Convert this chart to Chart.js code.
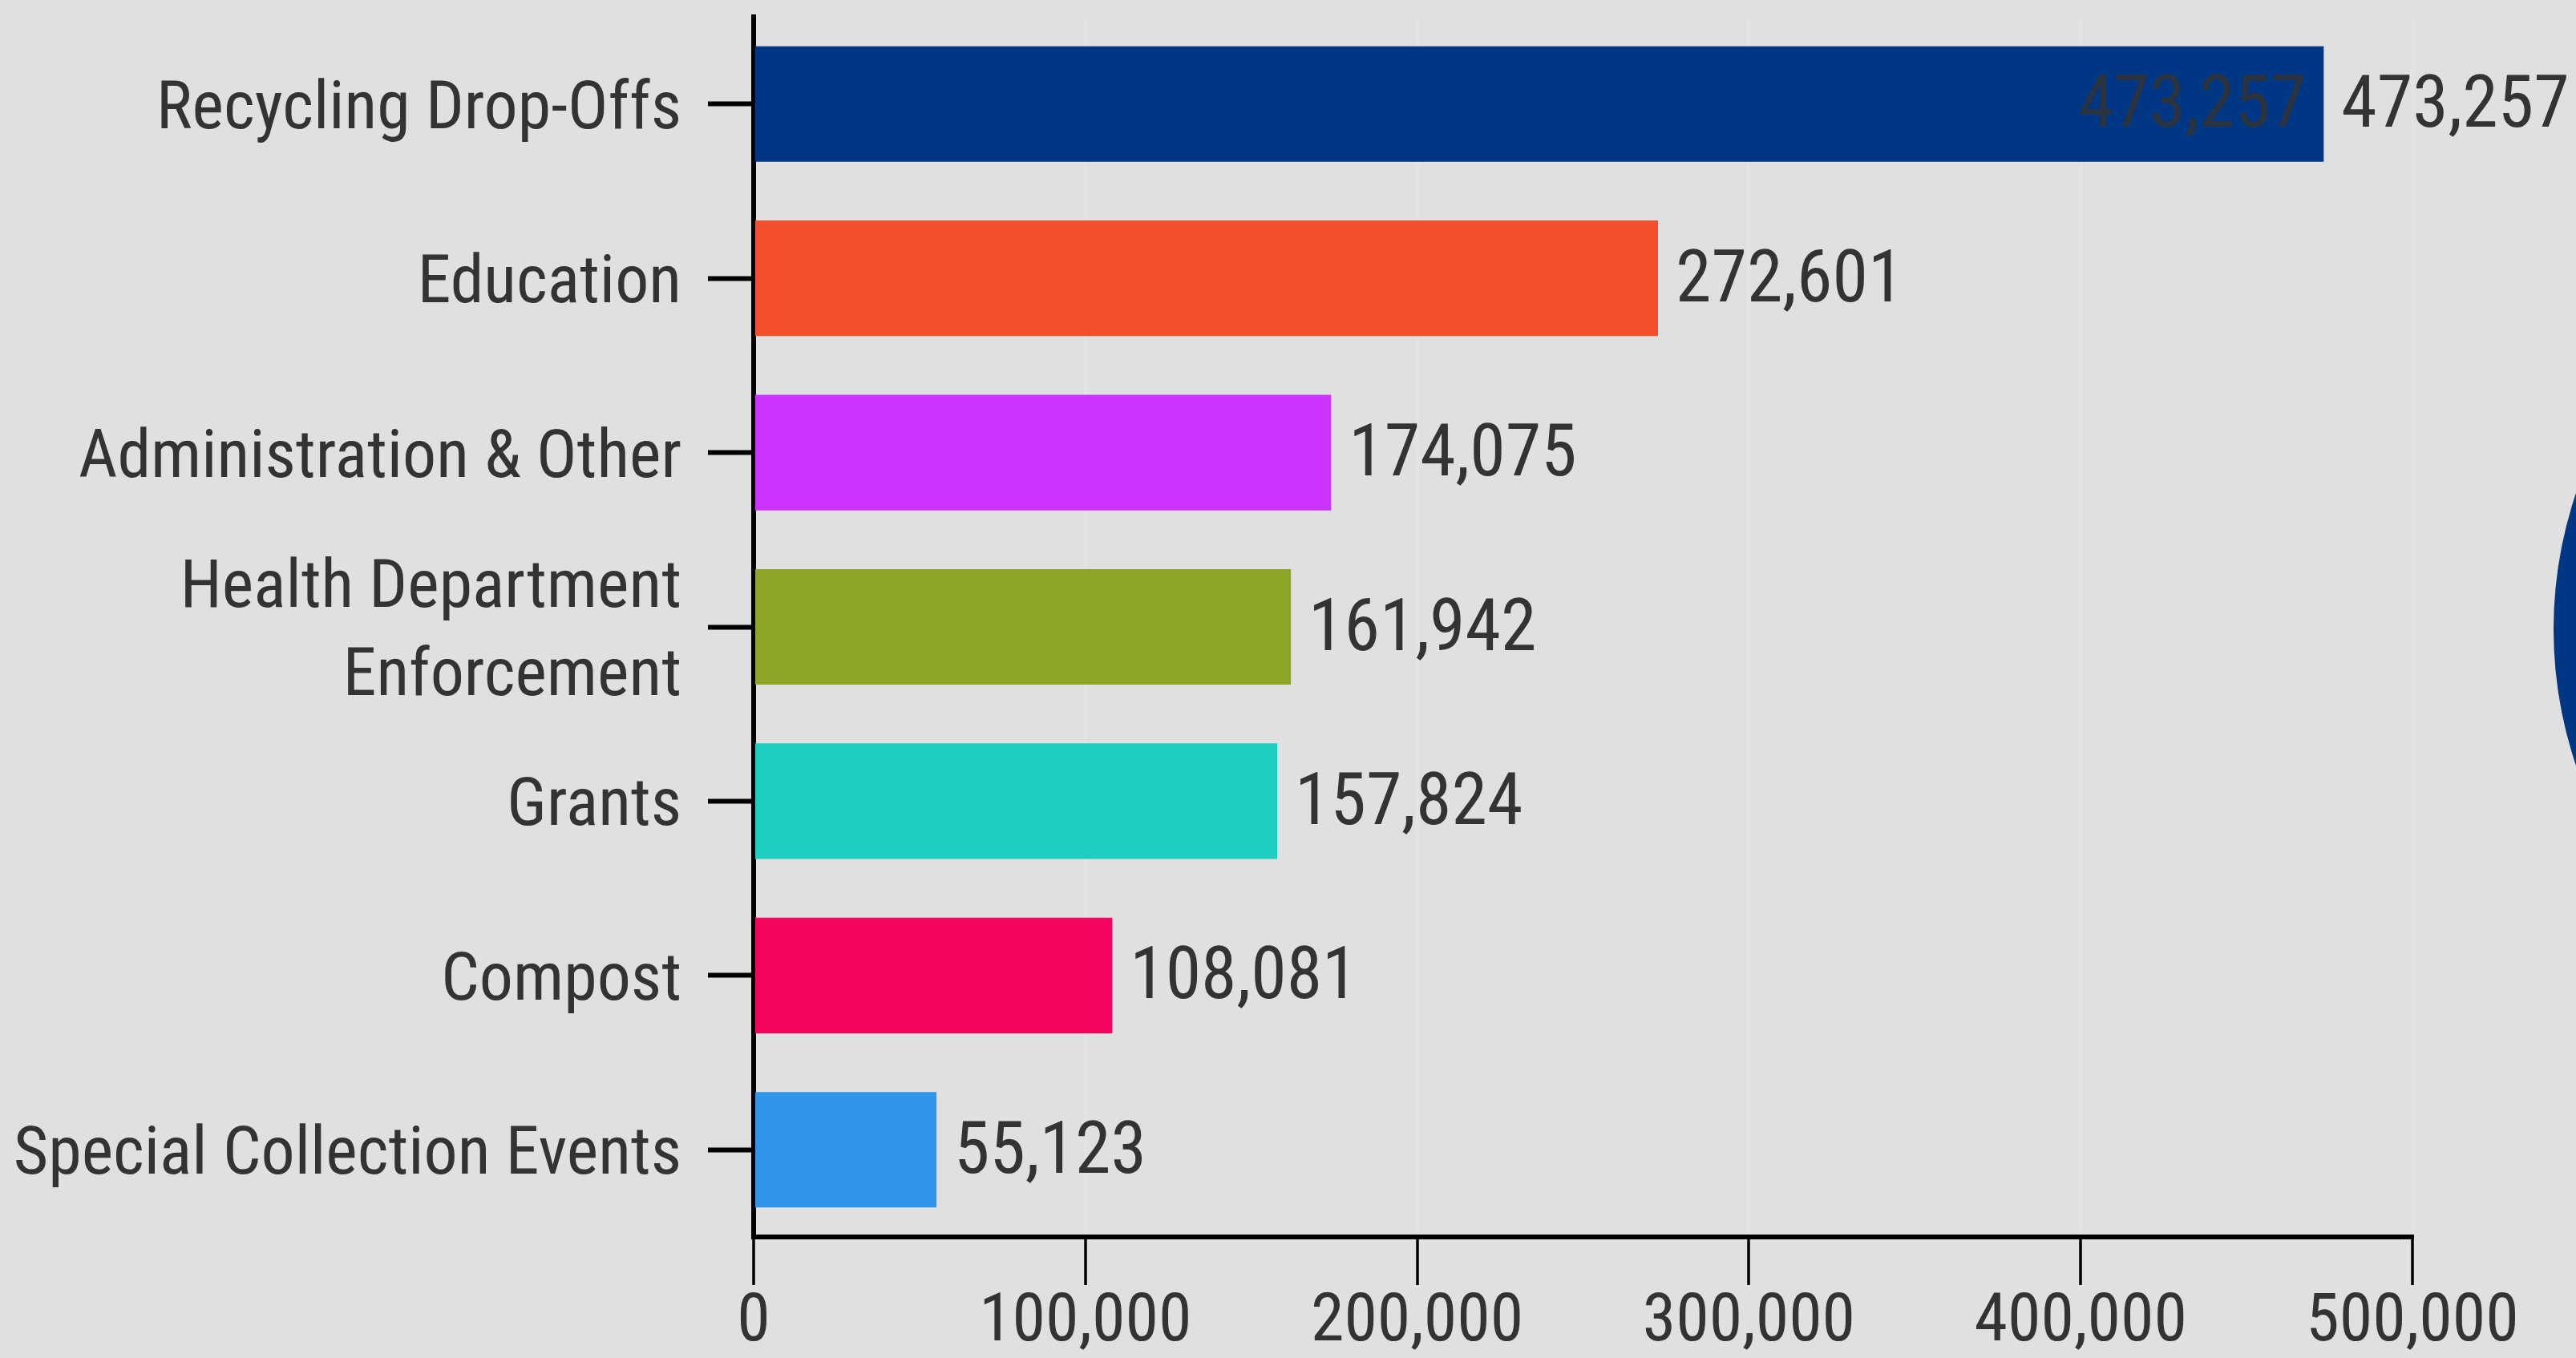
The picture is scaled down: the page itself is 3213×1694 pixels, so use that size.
<!DOCTYPE html>
<html>
<head>
<meta charset="utf-8">
<script src="https://cdn.jsdelivr.net/npm/chart.js@4/dist/chart.umd.min.js"></script>
<style>
html,body{margin:0;padding:0;background:#e0e0e0;overflow:hidden;}
canvas{display:block;}
</style>
</head>
<body>
<canvas id="c" width="3213" height="1694"></canvas>
<script>
// ---- data ----
const categories = [
  'Recycling Drop-Offs',
  'Education',
  'Administration & Other',
  ['Health Department', 'Enforcement'],
  'Grants',
  'Compost',
  'Special Collection Events'
];
const values = [473257, 272601, 174075, 161942, 157824, 108081, 55123];
const barColors = ['#003785', '#F64F2D', '#CC33FF', '#8BA526', '#1DCDC0', '#F5055F', '#2F95EA'];
const xTickValues = [0, 100000, 200000, 300000, 400000, 500000];

// ---- font selection (condensed look) ----
function measure(font, txt) {
  const ctx = document.createElement('canvas').getContext('2d');
  ctx.font = font;
  const ok = ctx.font.indexOf('92px') >= 0;
  return ok ? ctx.measureText(txt).width : -1;
}
const sample = 'Special Collection Events';
let FAMILY = 'Roboto', WEIGHT = '400';
(function pick() {
  const rN = measure('400 92px Roboto', sample);
  const rC = measure('400 condensed 92px Roboto', sample);
  if (rC > 0 && rC < rN * 0.95 && rC > rN * 0.6) { WEIGHT = '400 condensed'; return; }
  const mono = measure('400 92px monospace', sample);
  const cands = ["'Roboto Condensed'", "'Liberation Sans Narrow'", "'DejaVu Sans Condensed'"];
  for (const f of cands) {
    const w = measure('400 92px ' + f + ', monospace', sample);
    if (w > 0 && Math.abs(w - mono) > 1) { FAMILY = f; return; }
  }
})();
Chart.defaults.font.family = FAMILY;
Chart.defaults.font.weight = WEIGHT;
Chart.defaults.color = '#333333';

const TEXT = '#333333';
const LABEL_SIZE = 90;

const bgPlugin = {
  id: 'bg',
  beforeDraw(chart) {
    const c = chart.ctx;
    c.save();
    c.fillStyle = '#e0e0e0';
    c.fillRect(0, 0, chart.width, chart.height);
    c.restore();
  }
};

// decorative partial circle at the right edge (part of a neighbouring graphic)
const decoPlugin = {
  id: 'deco',
  afterDraw(chart) {
    const c = chart.ctx;
    c.save();
    c.fillStyle = '#003785';
    c.beginPath();
    c.arc(chart.width + 502, 785, 530, 0, Math.PI * 2);
    c.fill();
    c.restore();
  }
};

const valueLabels = {
  id: 'valueLabels',
  afterDatasetsDraw(chart) {
    const c = chart.ctx;
    const meta = chart.getDatasetMeta(0);
    c.save();
    c.font = WEIGHT + ' ' + LABEL_SIZE + 'px ' + FAMILY;
    c.textBaseline = 'middle';
    meta.data.forEach((bar, i) => {
      const txt = values[i].toLocaleString('en-US');
      c.fillStyle = TEXT;
      c.textAlign = 'left';
      c.fillText(txt, bar.x + 22, bar.y + 6);
      if (i === 0) {
        c.globalAlpha = 0.85;
        c.textAlign = 'right';
        c.fillText(txt, bar.x - 22, bar.y + 6);
        c.globalAlpha = 1;
      }
    });
    c.restore();
  }
};

new Chart(document.getElementById('c'), {
  type: 'bar',
  data: {
    labels: categories,
    datasets: [{
      data: values,
      backgroundColor: barColors,
      borderWidth: 0,
      barPercentage: 0.663,
      categoryPercentage: 1.0
    }]
  },
  plugins: [bgPlugin, valueLabels, decoPlugin],
  options: {
    indexAxis: 'y',
    responsive: false,
    animation: false,
    devicePixelRatio: 1,
    layout: { padding: { top: 21, right: 204, left: 0, bottom: 0 } },
    plugins: { legend: { display: false }, tooltip: { enabled: false } },
    scales: {
      x: {
        type: 'linear',
        min: 0,
        max: 500000,
        afterBuildTicks(scale) { scale.ticks = xTickValues.map(v => ({ value: v })); },
        ticks: {
          color: TEXT,
          font: { size: 84, lineHeight: 1.0 },
          padding: 6,
          maxRotation: 0,
          autoSkip: false,
          callback: v => Number(v).toLocaleString('en-US')
        },
        grid: {
          display: true,
          drawOnChartArea: true,
          color: 'rgba(255,255,255,0.12)',
          lineWidth: 4,
          drawTicks: true,
          tickLength: 60,
          tickColor: '#000000',
          tickWidth: 3.5
        },
        border: { display: true, color: '#000000', width: 6 },
        afterFit(scale) { scale.height = 151; scale.paddingLeft = 0; scale.paddingRight = 0; }
      },
      y: {
        ticks: {
          color: TEXT,
          font: { size: 84, lineHeight: 1.3 },
          padding: 33,
          labelOffset: 9,
          autoSkip: false
        },
        grid: {
          display: true,
          drawOnChartArea: false,
          offset: false,
          drawTicks: true,
          tickLength: 57,
          tickColor: '#000000',
          tickWidth: 6
        },
        border: { display: true, color: '#000000', width: 6 },
        afterFit(scale) { scale.width = 940; scale.paddingTop = 0; scale.paddingBottom = 0; }
      }
    }
  }
});
</script>
</body>
</html>
